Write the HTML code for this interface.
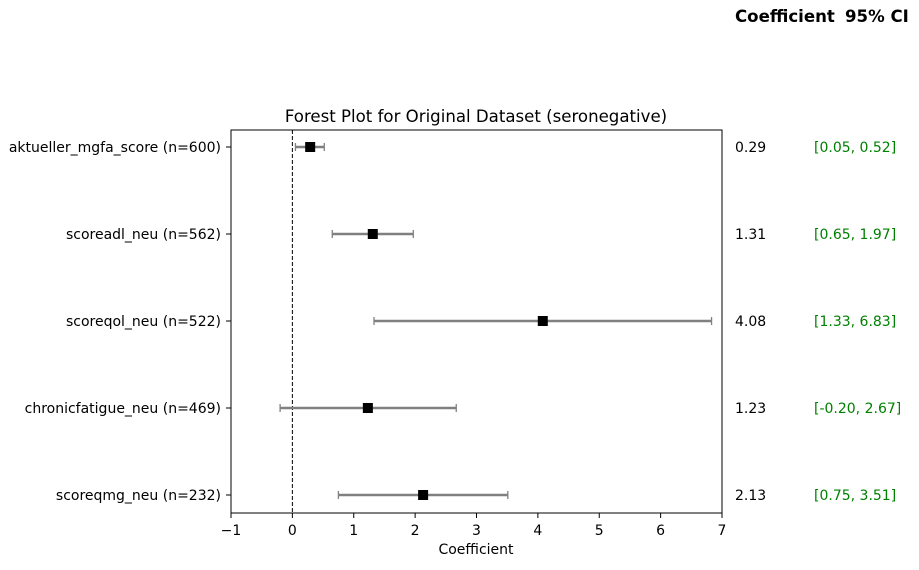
<!DOCTYPE html>
<html><head><meta charset="utf-8"><style>
body{margin:0;background:#fff;width:919px;height:566px;overflow:hidden;font-family:"DejaVu Sans","Liberation Sans",sans-serif}
</style></head><body>
<svg id="chart" width="919" height="566" xmlns="http://www.w3.org/2000/svg" font-family="DejaVu Sans, Liberation Sans, sans-serif">
<text x="735" y="22" font-size="16.6" font-weight="bold">Coefficient</text>
<text x="845" y="22" font-size="16.6" font-weight="bold">95% CI</text>
<text x="476" y="122" font-size="16.6" text-anchor="middle">Forest Plot for Original Dataset (seronegative)</text>
<rect x="231" y="130" width="491" height="383" fill="none" stroke="#000" stroke-width="1"/>
<text x="476" y="554" font-size="14" text-anchor="middle">Coefficient</text>
<g id="marks"></g>
</svg>
<script>
const labels=["aktueller_mgfa_score (n=600)","scoreadl_neu (n=562)","scoreqol_neu (n=522)","chronicfatigue_neu (n=469)","scoreqmg_neu (n=232)"];
const coefs=[0.29,1.31,4.08,1.23,2.13];
const lows=[0.05,0.65,1.33,-0.20,0.75];
const highs=[0.52,1.97,6.83,2.67,3.51];
const ticks=[-1,0,1,2,3,4,5,6,7];
const tickLabels=["\u22121","0","1","2","3","4","5","6","7"];
const NS="http://www.w3.org/2000/svg";
const g=document.getElementById('marks');
const x=v=>231+(v+1)*(491/8);
const y=i=>147+i*87;
function mk(t,a){const e=document.createElementNS(NS,t);for(const k in a)e.setAttribute(k,a[k]);g.appendChild(e);return e;}
ticks.forEach((t,i)=>{
 const l=mk('line',{x1:x(t),x2:x(t),y1:513,y2:518,stroke:'#000'});
 
 
 const tx=mk('text',{x:x(t),y:535,'font-size':14,'text-anchor':'middle'});tx.textContent=tickLabels[i];
 
 
});
const z=mk('line',{x1:x(0),x2:x(0),y1:130,y2:513,stroke:'#000','stroke-dasharray':'4,2'});


labels.forEach((lab,i)=>{
 const yy=y(i);
 const tk=mk('line',{x1:226,x2:231,y1:yy,y2:yy,stroke:'#000'});
 
 
 const t=mk('text',{x:221,y:yy+5,'font-size':14,'text-anchor':'end'});t.textContent=lab;
 
 
 const eb=mk('line',{x1:x(lows[i]),x2:x(highs[i]),y1:yy,y2:yy,stroke:'#808080','stroke-width':2.5});
 
 
 [lows[i],highs[i]].forEach(v=>{const c=mk('line',{x1:x(v),x2:x(v),y1:yy-4,y2:yy+4,stroke:'#808080','stroke-width':1.3});
  
  });
 const m=mk('rect',{x:x(coefs[i])-5,y:yy-5,width:10,height:10,fill:'#000'});
 
 
 const ct=mk('text',{x:735,y:yy+5,'font-size':14});ct.textContent=coefs[i].toFixed(2);
 
 
 const ci=mk('text',{x:814,y:yy+5,'font-size':14,fill:'#008000'});ci.textContent='['+lows[i].toFixed(2)+', '+highs[i].toFixed(2)+']';
 
 
});
</script>
</body></html>
